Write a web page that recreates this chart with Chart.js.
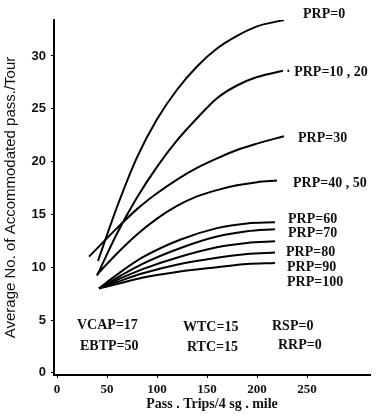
<!DOCTYPE html>
<html>
<head>
<meta charset="utf-8">
<script src="https://cdn.jsdelivr.net/npm/chart.js@4.4.0/dist/chart.umd.min.js"></script>
<style>
  html, body { margin: 0; padding: 0; background: #fff; }
</style>
</head>
<body>
<canvas id="prpChart" width="385" height="416"></canvas>
<script>
// pass trips / 4 sq mile  vs  average accommodated passengers per tour
const prp0X = [41, 60, 80, 100, 120, 140, 160, 180, 200, 227];
const prp0Y = [10.6, 15.7, 20.4, 24.0, 26.8, 29.0, 30.7, 31.9, 32.8, 33.4];

const prp1020X = [40, 60, 80, 100, 120, 140, 160, 180, 200, 226];
const prp1020Y = [9.2, 13.2, 16.6, 19.5, 22.0, 24.1, 26.0, 27.2, 28.0, 28.6];

const prp30X = [32, 60, 80, 100, 120, 140, 160, 180, 200, 227];
const prp30Y = [11.0, 13.7, 15.5, 17.0, 18.3, 19.4, 20.3, 21.1, 21.7, 22.4];

const prp4050X = [40, 60, 80, 100, 120, 140, 160, 180, 200, 220];
const prp4050Y = [9.3, 11.3, 13.1, 14.6, 15.8, 16.7, 17.3, 17.75, 18.05, 18.2];

// the low curves all leave from the same point
const lowX = [42, 60, 85, 123, 160, 190, 218];
const prp60Y = [8.0, 9.3, 10.9, 12.6, 13.7, 14.15, 14.25];
const prp70Y = [8.0, 9.0, 10.3, 11.8, 12.9, 13.4, 13.6];
const prp80Y = [8.0, 8.8, 9.8, 11.0, 11.9, 12.3, 12.45];
const prp90Y = [8.0, 8.6, 9.4, 10.3, 10.9, 11.25, 11.4];
const prp100Y = [8.0, 8.4, 9.0, 9.6, 10.0, 10.3, 10.4];

const xTicks = [0, 50, 100, 150, 200, 250];
const yTicks = [0, 5, 10, 15, 20, 25, 30];

// text written on the plot, placed in data units
const notes = [
    { text: 'PRP=0', x: 246, y: 33.95 },
    { text: '\u00b7 PRP=10 , 20', x: 229, y: 28.47 },
    { text: 'PRP=30', x: 241, y: 22.22 },
    { text: 'PRP=40 , 50', x: 236, y: 17.97 },
    { text: 'PRP=60', x: 231, y: 14.56 },
    { text: 'PRP=70', x: 231, y: 13.24 },
    { text: 'PRP=80', x: 229, y: 11.44 },
    { text: 'PRP=90', x: 230, y: 10.02 },
    { text: 'PRP=100', x: 230, y: 8.6 },
    { text: 'VCAP=17', x: 20, y: 4.53 },
    { text: 'EBTP=50', x: 23, y: 2.55 },
    { text: 'WTC=15', x: 126, y: 4.34 },
    { text: 'RTC=15', x: 130, y: 2.46 },
    { text: 'RSP=0', x: 215, y: 4.44 },
    { text: 'RRP=0', x: 221, y: 2.64 }
];

const toPoints = (xs, ys) => xs.map((v, i) => ({ x: v, y: ys[i] }));

const curve = (label, xs, ys) => ({
    label: label,
    data: toPoints(xs, ys),
    borderColor: '#000',
    borderWidth: 2,
    pointRadius: 0,
    fill: false,
    cubicInterpolationMode: 'monotone'
});

const notePlugin = {
    id: 'notes',
    afterDraw(chart) {
        const { ctx, scales } = chart;
        ctx.save();
        ctx.fillStyle = '#111';
        ctx.font = 'bold 14px "Liberation Serif"';
        ctx.textBaseline = 'middle';
        notes.forEach(n => {
            ctx.fillText(n.text, scales.x.getPixelForValue(n.x), scales.y.getPixelForValue(n.y));
        });
        ctx.restore();
    }
};

new Chart(document.getElementById('prpChart'), {
    type: 'line',
    data: {
        datasets: [
            curve('PRP=0', prp0X, prp0Y),
            curve('PRP=10,20', prp1020X, prp1020Y),
            curve('PRP=30', prp30X, prp30Y),
            curve('PRP=40,50', prp4050X, prp4050Y),
            curve('PRP=60', lowX, prp60Y),
            curve('PRP=70', lowX, prp70Y),
            curve('PRP=80', lowX, prp80Y),
            curve('PRP=90', lowX, prp90Y),
            curve('PRP=100', lowX, prp100Y)
        ]
    },
    options: {
        responsive: false,
        animation: false,
        layout: { padding: { top: 20, right: 15, left: 0, bottom: 0 } },
        plugins: { legend: { display: false }, tooltip: { enabled: false } },
        scales: {
            x: {
                type: 'linear',
                min: -3,
                max: 313,
                afterBuildTicks: s => { s.ticks = xTicks.map(v => ({ value: v })); },
                afterFit: s => { s.height = 41; },
                border: { color: '#000', width: 2 },
                grid: { drawOnChartArea: false, drawTicks: true, tickLength: 3, color: '#000' },
                ticks: { color: '#111', padding: 4, maxRotation: 0, font: { family: 'Liberation Serif', size: 13, weight: 'bold' } },
                title: {
                    display: true,
                    text: 'Pass . Trips/4 sg . mile',
                    color: '#111',
                    padding: { top: 0, bottom: 3 },
                    font: { family: 'Liberation Serif', size: 14, weight: 'bold' }
                }
            },
            y: {
                type: 'linear',
                min: -0.2,
                max: 33.4,
                afterBuildTicks: s => { s.ticks = yTicks.map(v => ({ value: v })); },
                afterFit: s => { s.width = 54; },
                border: { color: '#000', width: 2 },
                grid: { drawOnChartArea: false, drawTicks: true, tickLength: 3, color: '#000' },
                ticks: { color: '#111', padding: 5, font: { family: 'Liberation Sans', size: 13, weight: 'bold' } },
                title: {
                    display: true,
                    text: 'Average No. of Accommodated pass./Tour',
                    color: '#111',
                    padding: { top: 2, bottom: 0 },
                    font: { family: 'Liberation Sans', size: 15 }
                }
            }
        }
    },
    plugins: [notePlugin]
});
</script>
</body>
</html>
